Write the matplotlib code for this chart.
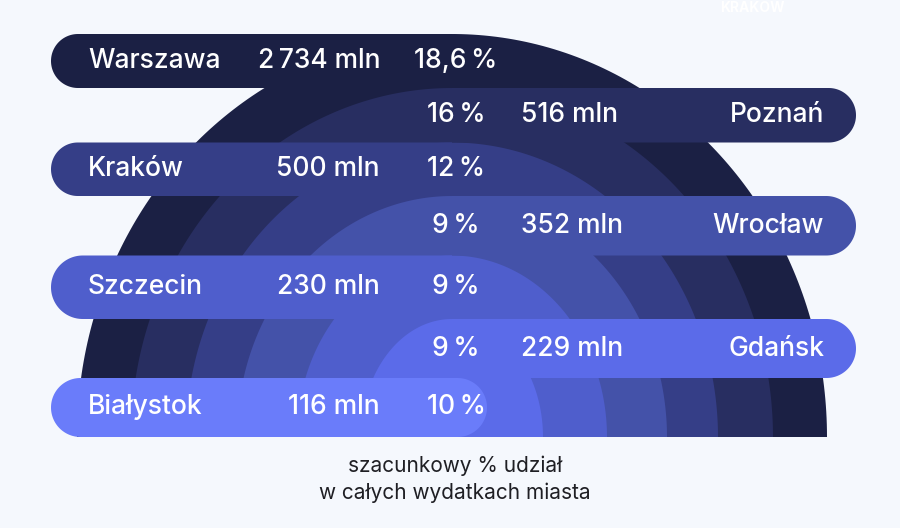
import matplotlib

matplotlib.use("Agg")
import matplotlib.pyplot as plt
import numpy as np
from matplotlib.patches import Polygon

# data (top -> bottom)
CITIES = ["Warszawa", "Poznań", "Kraków", "Wrocław", "Szczecin", "Gdańsk", "Białystok"]
AMOUNTS_MLN = [2734, 516, 500, 352, 230, 229, 116]
SHARES_PCT = [18.6, 16, 12, 9, 9, 9, 10]
SIDES = ["left", "right", "left", "right", "left", "right", "left"]
CAPTION = ["szacunkowy % udział", "w całych wydatkach miasta"]

COLORS = ["#1b2044", "#282e61", "#353e87", "#4452a9", "#4f5ecc", "#5b6be9", "#6a7cfa"]
BG = "#f5f8fd"
FONT = ["Inter", "DejaVu Sans"]

# layout, pixel units (y grows downward)
CX, BASE = 452, 437
ROW_EDGES = [34, 88, 142.5, 196, 255.5, 319, 378, 437]
RING_RX = [375, 321, 266, 215, 155, 91]
LEFT_END, RIGHT_END = 51, 856


def fmt_amount(v):
    return f"{v:,}".replace(",", "\u2009") + " mln"


def fmt_share(v):
    s = f"{v:g}".replace(".", ",")
    return f"{s}\u2009%"


def half_ellipse(rx, ry):
    t = np.linspace(0, np.pi, 200)
    return np.column_stack([CX + rx * np.cos(t), BASE - ry * np.sin(t)])


def pill(x0, x1, y0, y1, round_left, round_right):
    r = (y1 - y0) / 2
    yc = (y0 + y1) / 2
    pts = []
    if round_right:
        t = np.linspace(-np.pi / 2, np.pi / 2, 60)
        pts += list(zip(x1 - r + r * np.cos(t), yc + r * np.sin(t)))
    else:
        pts += [(x1, y0), (x1, y1)]
    if round_left:
        t = np.linspace(np.pi / 2, 3 * np.pi / 2, 60)
        pts += list(zip(x0 + r + r * np.cos(t), yc + r * np.sin(t)))
    else:
        pts += [(x0, y1), (x0, y0)]
    return np.array(pts)


fig = plt.figure(figsize=(9, 5.28), dpi=100, facecolor=BG)
ax = fig.add_axes([0, 0, 1, 1])
ax.set_xlim(0, 900)
ax.set_ylim(528, 0)
ax.axis("off")
ax.set_facecolor(BG)

# concentric half rings, outer first
for k, rx in enumerate(RING_RX):
    ry = BASE - ROW_EDGES[k]
    ax.add_patch(Polygon(half_ellipse(rx, ry), closed=True, fc=COLORS[k], ec="none", zorder=1))

txt = dict(color="white", fontsize=19, family=FONT, fontweight=500, va="center", zorder=5)
for k, city in enumerate(CITIES):
    y0, y1 = ROW_EDGES[k], ROW_EDGES[k + 1]
    yc = (y0 + y1) / 2
    last = k == len(CITIES) - 1
    if SIDES[k] == "left":
        x1 = 487 if last else CX
        shape = pill(LEFT_END, x1, y0, y1, True, last)
        ax.text(88, yc, city, ha="left", **txt)
        ax.text(380, yc, fmt_amount(AMOUNTS_MLN[k]), ha="right", **txt)
    else:
        shape = pill(CX, RIGHT_END, y0, y1, False, True)
        ax.text(824, yc, city, ha="right", **txt)
        ax.text(521, yc, fmt_amount(AMOUNTS_MLN[k]), ha="left", **txt)
    ax.add_patch(Polygon(shape, closed=True, fc=COLORS[k], ec="none", zorder=2 + k * 0.01))
    ax.text(456, yc, fmt_share(SHARES_PCT[k]), ha="center", **txt)

for i, line in enumerate(CAPTION):
    ax.text(455, 466 + i * 27, line, ha="center", va="center", color="#1f1f24",
            fontsize=15, family=FONT)

# faint white header word at the top edge
ax.text(752, 1, "KRAKÓW", ha="center", va="top", color="white", fontsize=10,
        family=FONT, fontweight="bold")

fig.savefig("out.png", dpi=100, facecolor=BG)
